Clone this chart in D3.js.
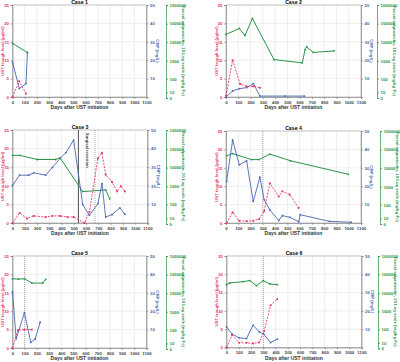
<!DOCTYPE html>
<html>
<head>
<meta charset="utf-8">
<script src="https://cdn.jsdelivr.net/npm/d3@7"></script>
<style>
  body { margin: 0; background: #fff; }
  svg { display: block; font-family: "Liberation Sans", Arial, sans-serif; }
</style>
</head>
<body>
<div id="chart"></div>
<script>
// values: [day, value]
var case1UST = [[0, 0], [56, 4.3], [111, 0.9]];
var case1CRP = [[0, 19], [56, 4.6], [111, 7.3], [122, 24]];
var case1FC  = [[0, 8600], [122, 2800]];

var case2UST = [[0, 0.3], [54, 10], [115, 3.5], [168, 2.9], [223, 2.9], [277, 2.5]];
var case2CRP = [[0, 0], [54, 3.3], [109, 4.5], [168, 5.1], [223, 7.3], [277, 0.5], [481, 0.5], [638, 0.5]];
var case2FC  = [[0, 26000], [109, 55000], [155, 23000], [215, 190000], [391, 1160], [622, 760],
                [644, 4000], [657, 5600], [711, 2800], [880, 3400]];

var case3UST = [[0, 0], [58, 2.7], [118, 1.2], [173, 1.9], [270, 1.6], [325, 1.9], [388, 1.9],
                [448, 1.6], [498, 1.6], [586, 0], [627, 3], [696, 17.4], [729, 18.9], [759, 13],
                [811, 11], [852, 8.5], [883, 9.9], [916, 8.5]];
var case3CRP = [[0, 20.3], [58, 25.7], [132, 25.7], [173, 27], [270, 25.7], [325, 29.9], [388, 34.7],
                [435, 37.8], [498, 44.6], [572, 9.9], [627, 4.1], [696, 10.4], [729, 21.2], [759, 3.2],
                [811, 4.5], [875, 8.1], [916, 4.7]];
var case3FC  = [[0, 45000], [58, 45000], [201, 27000], [352, 27000], [388, 33000], [572, 520],
                [759, 640], [792, 210]];

var case4UST = [[5, 0], [54, 2.9], [108, 0.6], [168, 0.5], [222, 0.6], [270, 1.1], [311, 3.2],
                [357, 10.8], [430, 7.2], [459, 8.6], [519, 7.7], [592, 4.1]];
var case4CRP = [[5, 22.6], [54, 45.1], [108, 31.6], [168, 33.8], [222, 11.7], [276, 24.9], [311, 12.6],
                [357, 7.2], [430, 1.3], [459, 4], [519, 3.1], [592, 0.7], [605, 4.5], [843, 0.9], [1019, 0.4]];
var case4FC  = [[5, 46000], [54, 61000], [208, 29000], [270, 29000], [357, 57000], [527, 25000], [997, 4700]];

var case5UST = [[0, 0], [45, 4.9], [98, 5], [158, 5]];
var case5CRP = [[0, 30.6], [30, 5], [98, 19.2], [150, 3.1], [186, 4.9], [227, 14]];
var case5FC  = [[0, 60000], [49, 57000], [98, 60000], [158, 35000], [248, 35000], [273, 55000]];

var case6UST = [[0, 0], [46, 3.4], [103, 1.3], [163, 1.3], [217, 1.1], [266, 1.4], [307, 4.5],
                [359, 11.5], [413, 13.2]];
var case6CRP = [[0, 11.3], [46, 7.3], [103, 5.3], [163, 4.9], [217, 12.2], [266, 8.5], [304, 7.3],
                [359, 2.7], [413, 4.5]];
var case6FC  = [[0, 28000], [27, 35000], [136, 41000], [190, 47000], [244, 25000], [299, 47000],
                [353, 31000], [413, 28000]];

var caseTitles = ["Case 1", "Case 2", "Case 3", "Case 4", "Case 5", "Case 6"];
// event lines: [day, solid?]
var caseEvents = [[], [], [[537, true], [672, false]], [[300, false]], [[100, false]], [[300, false]]];

var dayTicks = d3.range(0, 1101, 100);
var ustTicks = [0, 5, 10, 15, 20, 25];
var crpTicks = [10, 20, 30, 40, 50];
var fcTicks = [0, 10, 100, 1000, 10000, 100000, 1000000];

var series = [
  [case1UST, case1CRP, case1FC],
  [case2UST, case2CRP, case2FC],
  [case3UST, case3CRP, case3FC],
  [case4UST, case4CRP, case4FC],
  [case5UST, case5CRP, case5FC],
  [case6UST, case6CRP, case6FC]
];

// panel frames (pixels)
var panels = [
  {x: 12.5, y: 5,   w: 134, h: 92, gx: 166},
  {x: 226,  y: 5,   w: 135, h: 92, gx: 377},
  {x: 12.5, y: 130, w: 135, h: 93, gx: 166},
  {x: 226,  y: 131, w: 135, h: 92, gx: 380},
  {x: 12.5, y: 256, w: 134, h: 92, gx: 166},
  {x: 226.5,y: 256, w: 135, h: 91.5, gx: 378}
];

var red = "#e8336a", blue = "#4668ad", green = "#279447";

var svg = d3.select("#chart").append("svg")
    .attr("width", 400)
    .attr("height", 362);

panels.forEach(function(p, i) {
  var g = svg.append("g");
  var x = d3.scaleLinear().domain([0, 1100]).range([p.x, p.x + p.w]);
  var yU = d3.scaleLinear().domain([0, 25]).range([p.y + p.h, p.y]);
  var yC = d3.scaleLinear().domain([0, 50]).range([p.y + p.h, p.y]);
  var yF = d3.scaleSymlog().constant(10).domain([0, 1000000]).range([p.y + p.h + 1, p.y]);

  // grid
  g.append("g").selectAll("line.v")
    .data(dayTicks.slice(1, -1)).enter().append("line")
      .attr("x1", function(d) { return x(d); }).attr("x2", function(d) { return x(d); })
      .attr("y1", p.y).attr("y2", p.y + p.h)
      .attr("stroke", "#e3e3e3").attr("stroke-width", 0.6);
  g.append("g").selectAll("line.h")
    .data(ustTicks.slice(1, -1)).enter().append("line")
      .attr("x1", p.x).attr("x2", p.x + p.w)
      .attr("y1", function(d) { return yU(d); }).attr("y2", function(d) { return yU(d); })
      .attr("stroke", "#e3e3e3").attr("stroke-width", 0.6);
  g.append("rect")
    .attr("x", p.x).attr("y", p.y).attr("width", p.w).attr("height", p.h)
    .attr("fill", "none").attr("stroke", "#999").attr("stroke-width", 0.6);

  // event lines
  caseEvents[i].forEach(function(e) {
    g.append("line")
      .attr("x1", x(e[0])).attr("x2", x(e[0]))
      .attr("y1", p.y).attr("y2", p.y + p.h)
      .attr("stroke", e[1] ? "#222" : "#888")
      .attr("stroke-width", e[1] ? 0.8 : 0.7)
      .attr("stroke-dasharray", e[1] ? null : "1,1");
  });
  if (i == 2) {
    g.append("text")
      .attr("transform", "translate(" + (x(598)) + "," + (p.y + 3) + ") rotate(90)")
      .attr("font-size", 4).attr("font-weight", "bold").attr("fill", "#333")
      .text("Surgical resection");
  }

  // axes
  var ax = g.append("g").attr("transform", "translate(0," + (p.y + p.h) + ")")
    .call(d3.axisBottom(x).tickValues(dayTicks).tickFormat(d3.format("d")).tickSize(2).tickPadding(1.5));
  ax.selectAll("text").attr("font-size", 4.3).attr("font-weight", "bold").attr("fill", "#444");
  ax.selectAll("line,path").attr("stroke", "#777").attr("stroke-width", 0.6);

  var al = g.append("g").attr("transform", "translate(" + p.x + ",0)")
    .call(d3.axisLeft(yU).tickValues(ustTicks).tickSize(2).tickPadding(1.5));
  al.selectAll("text").attr("font-size", 4.3).attr("font-weight", "bold").attr("fill", red);
  al.selectAll("line,path").attr("stroke", "#777").attr("stroke-width", 0.6);

  var ac = g.append("g").attr("transform", "translate(" + (p.x + p.w) + ",0)")
    .call(d3.axisRight(yC).tickValues(crpTicks).tickSize(2).tickPadding(1.5));
  ac.selectAll("text").attr("font-size", 4.3).attr("font-weight", "bold").attr("fill", blue);
  ac.selectAll("line,path").attr("stroke", "#777").attr("stroke-width", 0.6);

  var af = g.append("g").attr("transform", "translate(" + p.gx + ",0)")
    .call(d3.axisRight(yF).tickValues(fcTicks).tickFormat(d3.format("d")).tickSize(2).tickPadding(1.5));
  af.selectAll("text").attr("font-size", 4.3).attr("font-weight", "bold").attr("fill", green);
  af.selectAll("line,path").attr("stroke", green).attr("stroke-width", 0.7);

  // titles
  g.append("text")
    .attr("x", p.x + p.w / 2).attr("y", p.y - 0.8)
    .attr("text-anchor", "middle").attr("font-size", 5.2).attr("font-weight", "bold")
    .text(caseTitles[i]);
  g.append("text")
    .attr("x", p.x + p.w / 2).attr("y", p.y + p.h + 12)
    .attr("text-anchor", "middle").attr("font-size", 5).attr("font-weight", "bold").attr("fill", "#333")
    .text("Days after UST initiation");
  g.append("text")
    .attr("transform", "translate(" + (p.x - 8.5) + "," + (p.y + p.h / 2) + ") rotate(-90)")
    .attr("text-anchor", "middle").attr("font-size", 4.3).attr("font-weight", "bold").attr("fill", red)
    .text("UST trough level (µg/ml)");
  g.append("text")
    .attr("transform", "translate(" + (p.x + p.w + 9) + "," + (p.y + p.h / 2) + ") rotate(90)")
    .attr("text-anchor", "middle").attr("font-size", 4.3).attr("font-weight", "bold").attr("fill", blue)
    .text("CRP (mg/L)");
  g.append("text")
    .attr("transform", "translate(" + (p.gx + 16) + "," + (p.y + p.h / 2) + ") rotate(90)")
    .attr("text-anchor", "middle").attr("font-size", 4.3).attr("font-weight", "bold").attr("fill", green)
    .text("Faecal calprotectin, 10 Log scale (mg/kg Fc)");

  // series
  var s = series[i];
  var lineU = d3.line().x(function(d) { return x(d[0]); }).y(function(d) { return yU(d[1]); });
  var lineC = d3.line().x(function(d) { return x(d[0]); }).y(function(d) { return yC(d[1]); });
  var lineF = d3.line().x(function(d) { return x(d[0]); }).y(function(d) { return yF(d[1]); });

  g.append("path").datum(s[2]).attr("d", lineF)
    .attr("fill", "none").attr("stroke", green).attr("stroke-width", 1);
  g.append("path").datum(s[1]).attr("d", lineC)
    .attr("fill", "none").attr("stroke", blue).attr("stroke-width", 0.9);
  g.append("path").datum(s[0]).attr("d", lineU)
    .attr("fill", "none").attr("stroke", red).attr("stroke-width", 0.9).attr("stroke-dasharray", "2,1.3");

  g.append("g").selectAll("circle").data(s[2]).enter().append("circle")
    .attr("cx", function(d) { return x(d[0]); }).attr("cy", function(d) { return yF(d[1]); })
    .attr("r", 0.9).attr("fill", green);
  g.append("g").selectAll("circle").data(s[1]).enter().append("circle")
    .attr("cx", function(d) { return x(d[0]); }).attr("cy", function(d) { return yC(d[1]); })
    .attr("r", 0.9).attr("fill", blue);
  g.append("g").selectAll("rect").data(s[0]).enter().append("rect")
    .attr("x", function(d) { return x(d[0]) - 0.9; }).attr("y", function(d) { return yU(d[1]) - 0.9; })
    .attr("width", 1.8).attr("height", 1.8).attr("fill", red);
});
</script>
</body>
</html>
